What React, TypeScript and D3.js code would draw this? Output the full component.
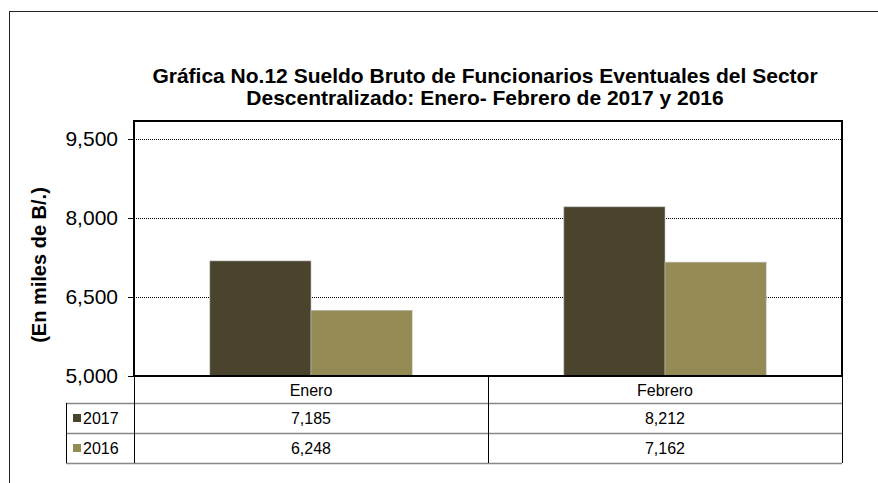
import * as d3 from "d3";
import React from "react";

// valores
const categories = ["Enero", "Febrero"];
const seriesNames = ["2017", "2016"];
const values2017 = [7185, 8212];
const values2016 = [6248, 7162];
const yTicks = [5000, 6500, 8000, 9500];
const colors = ["#4a442d", "#948a54"];

const titleLines = [
  "Gráfica No.12 Sueldo Bruto de Funcionarios Eventuales del Sector",
  "Descentralizado: Enero- Febrero de 2017 y 2016",
];

const App = () => {
  const ref = React.useRef(null);

  React.useEffect(() => {
    const width = 878,
      height = 483;
    const plot = { left: 134, right: 842, top: 121, bottom: 376 };
    const font = "Liberation Sans, Arial, sans-serif";

    const svg = d3.select(ref.current).attr("width", width).attr("height", height);
    svg.selectAll("*").remove();

    // marco exterior
    svg
      .append("rect")
      .attr("x", 9.5)
      .attr("y", 11.5)
      .attr("width", width + 20)
      .attr("height", height + 20)
      .attr("fill", "white")
      .attr("stroke", "#222")
      .attr("stroke-width", 1);

    // titulo
    svg
      .append("g")
      .selectAll("text")
      .data(titleLines)
      .enter()
      .append("text")
      .attr("x", 485)
      .attr("y", (d, i) => 83 + i * 22)
      .attr("text-anchor", "middle")
      .style("font-family", font)
      .style("font-weight", "bold")
      .style("font-size", "21px")
      .text((d) => d);

    const y = d3
      .scaleLinear()
      .domain([5000, 9500])
      .range([plot.bottom, 139]);

    const x0 = d3
      .scaleBand()
      .domain(categories)
      .range([plot.left, plot.right]);
    const x1 = d3
      .scaleBand()
      .domain(seriesNames)
      .range([0, x0.bandwidth()])
      .paddingOuter(0.75)
      .paddingInner(0);

    // lineas de guia
    svg
      .append("g")
      .selectAll("line")
      .data(yTicks.slice(1))
      .enter()
      .append("line")
      .attr("x1", plot.left)
      .attr("x2", plot.right)
      .attr("y1", (d) => Math.round(y(d)) + 0.5)
      .attr("y2", (d) => Math.round(y(d)) + 0.5)
      .attr("stroke", "#000")
      .attr("stroke-width", 1)
      .attr("stroke-dasharray", "1,1");

    // barras
    const rows = [values2017, values2016];
    const bars = [];
    categories.forEach((c, ci) => {
      seriesNames.forEach((s, si) => {
        bars.push({ c, s, v: rows[si][ci], color: colors[si] });
      });
    });
    svg
      .append("g")
      .selectAll("rect")
      .data(bars)
      .enter()
      .append("rect")
      .attr("x", (d) => x0(d.c) + x1(d.s))
      .attr("y", (d) => y(d.v))
      .attr("width", x1.bandwidth())
      .attr("height", (d) => plot.bottom - y(d.v))
      .attr("fill", (d) => d.color)
      .attr("stroke", "#bbb")
      .attr("stroke-width", 0.6);

    // eje y
    const yAxis = d3
      .axisLeft(y)
      .tickValues(yTicks)
      .tickFormat(d3.format(","))
      .tickSize(6)
      .tickPadding(10);
    const ga = svg
      .append("g")
      .attr("transform", "translate(" + plot.left + ",0)")
      .call(yAxis);
    ga.select(".domain").remove();
    ga.selectAll("text")
      .style("font-family", font)
      .style("font-size", "21px")
      .attr("fill", "#000");

    // marco del area de trazado
    svg
      .append("rect")
      .attr("x", plot.left)
      .attr("y", plot.top)
      .attr("width", plot.right - plot.left)
      .attr("height", plot.bottom - plot.top)
      .attr("fill", "none")
      .attr("stroke", "#000")
      .attr("stroke-width", 2);

    // titulo eje y
    svg
      .append("text")
      .attr("transform", "translate(46," + 265 + ") rotate(-90)")
      .attr("text-anchor", "middle")
      .style("font-family", font)
      .style("font-weight", "bold")
      .style("font-size", "20px")
      .text("(En miles de B/.)");

    // tabla de datos
    const rowY = [376, 403, 433, 463];
    const legendLeft = 66;
    const t = svg.append("g");
    // horizontales grises
    t.selectAll("line.h")
      .data(rowY.slice(1))
      .enter()
      .append("line")
      .attr("class", "h")
      .attr("x1", legendLeft)
      .attr("x2", plot.right)
      .attr("y1", (d) => d + 0.5)
      .attr("y2", (d) => d + 0.5)
      .attr("stroke", "#888")
      .attr("stroke-width", 1.5);
    // verticales
    const vx = [plot.left, x0("Febrero"), plot.right];
    t.selectAll("line.v")
      .data(vx)
      .enter()
      .append("line")
      .attr("class", "v")
      .attr("x1", (d) => d + 0.5)
      .attr("x2", (d) => d + 0.5)
      .attr("y1", plot.bottom)
      .attr("y2", rowY[3])
      .attr("stroke", "#000")
      .attr("stroke-width", 1);
    t.append("line")
      .attr("x1", legendLeft + 0.5)
      .attr("x2", legendLeft + 0.5)
      .attr("y1", rowY[1])
      .attr("y2", rowY[3])
      .attr("stroke", "#000")
      .attr("stroke-width", 1);

    // encabezado categorias
    t.selectAll("text.cat")
      .data(categories)
      .enter()
      .append("text")
      .attr("class", "cat")
      .attr("x", (d) => x0(d) + x0.bandwidth() / 2)
      .attr("y", (rowY[0] + rowY[1]) / 2 + 6)
      .attr("text-anchor", "middle")
      .style("font-family", font)
      .style("font-size", "16px")
      .text((d) => d);

    // filas de series
    seriesNames.forEach((s, si) => {
      const cy = (rowY[si + 1] + rowY[si + 2]) / 2;
      t.append("rect")
        .attr("x", 73)
        .attr("y", cy - 4)
        .attr("width", 8)
        .attr("height", 8)
        .attr("fill", colors[si]);
      t.append("text")
        .attr("x", 83)
        .attr("y", cy + 6)
        .style("font-family", font)
        .style("font-size", "16px")
        .text(s);
      t.selectAll("text.v" + si)
        .data(categories)
        .enter()
        .append("text")
        .attr("class", "v" + si)
        .attr("x", (d) => x0(d) + x0.bandwidth() / 2)
        .attr("y", cy + 6)
        .attr("text-anchor", "middle")
        .style("font-family", font)
        .style("font-size", "16px")
        .text((d, ci) => d3.format(",")(rows[si][ci]));
    });
  }, []);

  return (
    <div style={{ position: "absolute", left: 0, top: 0 }}>
      <svg ref={ref} style={{ display: "block" }}></svg>
    </div>
  );
};

export default App;
